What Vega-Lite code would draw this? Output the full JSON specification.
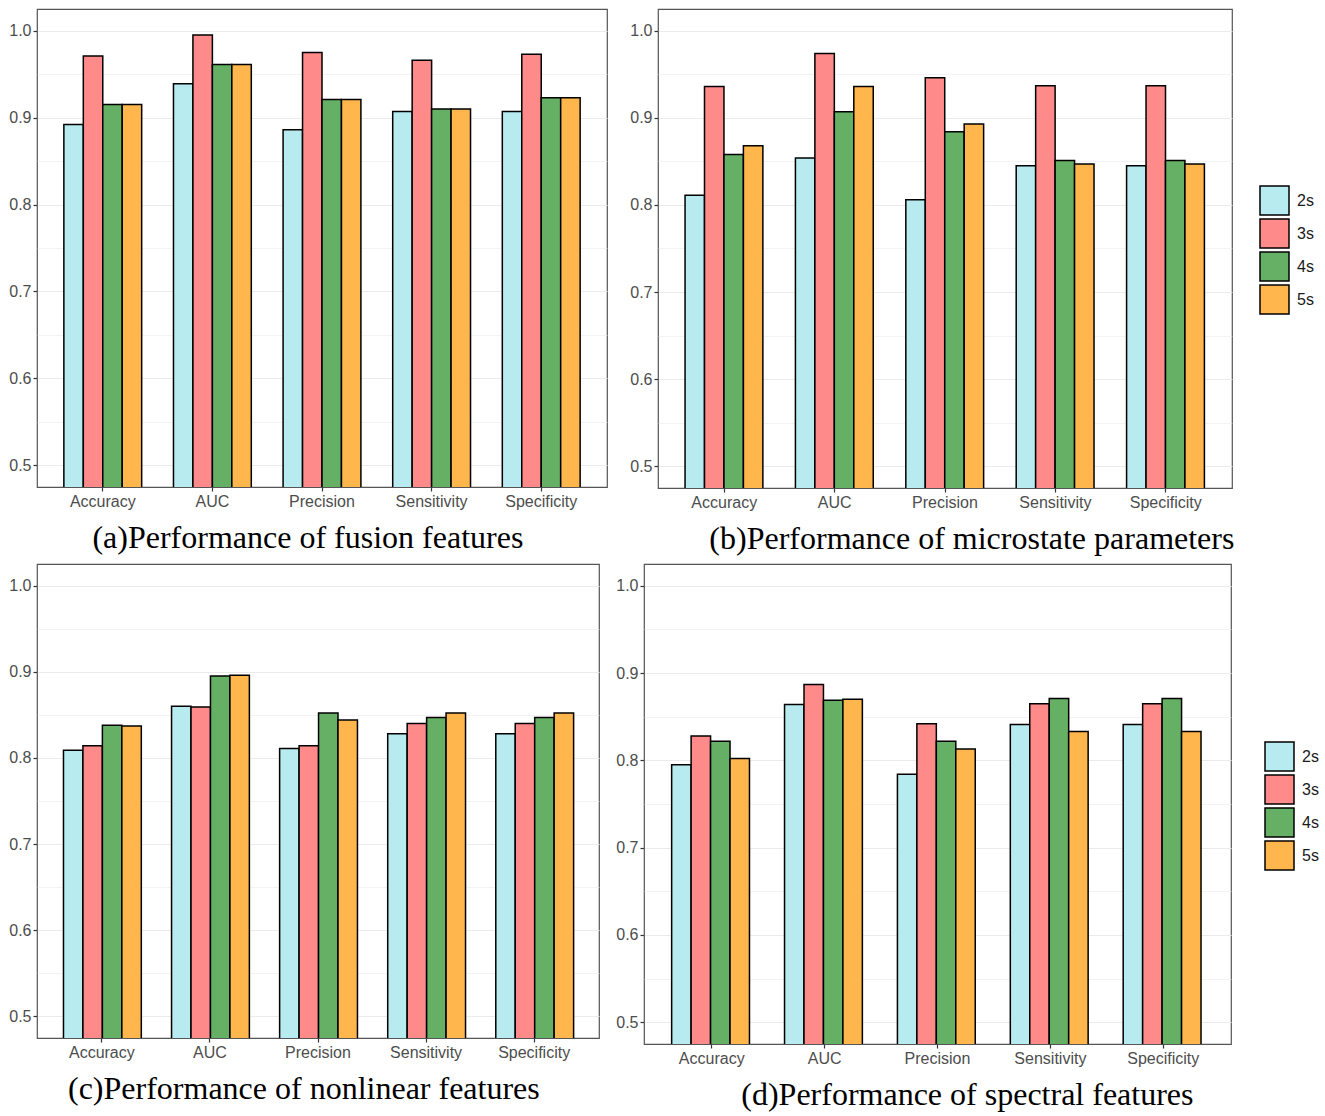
{
  "$schema": "https://vega.github.io/schema/vega-lite/v6.json",
  "padding": {"left": 8, "top": 8, "right": 5, "bottom": 5},
  "background": "white",
  "datasets": {
    "d": [
      {"p":"a","m":"Accuracy","w":"2s","v":0.892},{"p":"a","m":"Accuracy","w":"3s","v":0.971},{"p":"a","m":"Accuracy","w":"4s","v":0.915},{"p":"a","m":"Accuracy","w":"5s","v":0.915},
      {"p":"a","m":"AUC","w":"2s","v":0.939},{"p":"a","m":"AUC","w":"3s","v":0.995},{"p":"a","m":"AUC","w":"4s","v":0.961},{"p":"a","m":"AUC","w":"5s","v":0.961},
      {"p":"a","m":"Precision","w":"2s","v":0.886},{"p":"a","m":"Precision","w":"3s","v":0.975},{"p":"a","m":"Precision","w":"4s","v":0.921},{"p":"a","m":"Precision","w":"5s","v":0.921},
      {"p":"a","m":"Sensitivity","w":"2s","v":0.907},{"p":"a","m":"Sensitivity","w":"3s","v":0.966},{"p":"a","m":"Sensitivity","w":"4s","v":0.910},{"p":"a","m":"Sensitivity","w":"5s","v":0.910},
      {"p":"a","m":"Specificity","w":"2s","v":0.907},{"p":"a","m":"Specificity","w":"3s","v":0.973},{"p":"a","m":"Specificity","w":"4s","v":0.923},{"p":"a","m":"Specificity","w":"5s","v":0.923},
      {"p":"b","m":"Accuracy","w":"2s","v":0.811},{"p":"b","m":"Accuracy","w":"3s","v":0.936},{"p":"b","m":"Accuracy","w":"4s","v":0.858},{"p":"b","m":"Accuracy","w":"5s","v":0.868},
      {"p":"b","m":"AUC","w":"2s","v":0.854},{"p":"b","m":"AUC","w":"3s","v":0.974},{"p":"b","m":"AUC","w":"4s","v":0.907},{"p":"b","m":"AUC","w":"5s","v":0.936},
      {"p":"b","m":"Precision","w":"2s","v":0.806},{"p":"b","m":"Precision","w":"3s","v":0.946},{"p":"b","m":"Precision","w":"4s","v":0.884},{"p":"b","m":"Precision","w":"5s","v":0.893},
      {"p":"b","m":"Sensitivity","w":"2s","v":0.845},{"p":"b","m":"Sensitivity","w":"3s","v":0.937},{"p":"b","m":"Sensitivity","w":"4s","v":0.851},{"p":"b","m":"Sensitivity","w":"5s","v":0.847},
      {"p":"b","m":"Specificity","w":"2s","v":0.845},{"p":"b","m":"Specificity","w":"3s","v":0.937},{"p":"b","m":"Specificity","w":"4s","v":0.851},{"p":"b","m":"Specificity","w":"5s","v":0.847},
      {"p":"c","m":"Accuracy","w":"2s","v":0.809},{"p":"c","m":"Accuracy","w":"3s","v":0.814},{"p":"c","m":"Accuracy","w":"4s","v":0.838},{"p":"c","m":"Accuracy","w":"5s","v":0.837},
      {"p":"c","m":"AUC","w":"2s","v":0.860},{"p":"c","m":"AUC","w":"3s","v":0.859},{"p":"c","m":"AUC","w":"4s","v":0.895},{"p":"c","m":"AUC","w":"5s","v":0.896},
      {"p":"c","m":"Precision","w":"2s","v":0.811},{"p":"c","m":"Precision","w":"3s","v":0.814},{"p":"c","m":"Precision","w":"4s","v":0.852},{"p":"c","m":"Precision","w":"5s","v":0.844},
      {"p":"c","m":"Sensitivity","w":"2s","v":0.828},{"p":"c","m":"Sensitivity","w":"3s","v":0.840},{"p":"c","m":"Sensitivity","w":"4s","v":0.847},{"p":"c","m":"Sensitivity","w":"5s","v":0.852},
      {"p":"c","m":"Specificity","w":"2s","v":0.828},{"p":"c","m":"Specificity","w":"3s","v":0.840},{"p":"c","m":"Specificity","w":"4s","v":0.847},{"p":"c","m":"Specificity","w":"5s","v":0.852},
      {"p":"d","m":"Accuracy","w":"2s","v":0.795},{"p":"d","m":"Accuracy","w":"3s","v":0.828},{"p":"d","m":"Accuracy","w":"4s","v":0.822},{"p":"d","m":"Accuracy","w":"5s","v":0.802},
      {"p":"d","m":"AUC","w":"2s","v":0.864},{"p":"d","m":"AUC","w":"3s","v":0.887},{"p":"d","m":"AUC","w":"4s","v":0.869},{"p":"d","m":"AUC","w":"5s","v":0.870},
      {"p":"d","m":"Precision","w":"2s","v":0.784},{"p":"d","m":"Precision","w":"3s","v":0.842},{"p":"d","m":"Precision","w":"4s","v":0.822},{"p":"d","m":"Precision","w":"5s","v":0.813},
      {"p":"d","m":"Sensitivity","w":"2s","v":0.841},{"p":"d","m":"Sensitivity","w":"3s","v":0.865},{"p":"d","m":"Sensitivity","w":"4s","v":0.871},{"p":"d","m":"Sensitivity","w":"5s","v":0.833},
      {"p":"d","m":"Specificity","w":"2s","v":0.841},{"p":"d","m":"Specificity","w":"3s","v":0.865},{"p":"d","m":"Specificity","w":"4s","v":0.871},{"p":"d","m":"Specificity","w":"5s","v":0.833}
    ]
  },
  "data": {"name": "d"},
  "resolve": {"legend": {"color": "independent"}},
  "spacing": 7,
  "vconcat": [
    {
      "spacing": 21,
      "resolve": {"legend": {"color": "independent"}},
      "hconcat": [
        {
          "width": 570, "height": 478,
          "transform": [{"filter": "datum.p=='a'"}],
          "mark": {"type": "bar", "stroke": "black", "strokeWidth": 1.5, "clip": true},
          "encoding": {
            "x": {"field": "m", "type": "nominal", "sort": ["Accuracy","AUC","Precision","Sensitivity","Specificity"], "scale": {"paddingInner": 0.29, "paddingOuter": 0.245}, "axis": {"title": null, "labelAngle": 0}},
            "xOffset": {"field": "w", "type": "nominal", "scale": {"paddingInner": 0, "paddingOuter": 0}},
            "y": {"field": "v", "type": "quantitative", "scale": {"domain": [0.475, 1.025], "nice": false, "zero": false},
                  "axis": {"title": null, "values": [0.5,0.55,0.6,0.65,0.7,0.75,0.8,0.85,0.9,0.95,1.0], "labelExpr": "round(datum.value*100)%10==0 ? format(datum.value,'.1f') : ''", "tickOpacity": {"condition": {"test": "round(datum.value*100)%10==0", "value": 1}, "value": 0}, "gridWidth": {"condition": {"test": "round(datum.value*100)%10==0", "value": 1.2}, "value": 0.6}, "grid": true}},
            "color": {"field": "w", "type": "nominal", "scale": {"domain": ["2s","3s","4s","5s"], "range": ["#B7EBF0","#FF8A8A","#65B064","#FFB74D"]}, "legend": null}
          },
          "title": {"text": "(a)Performance of fusion features"}
        },
        {
          "width": 574, "height": 479,
          "transform": [{"filter": "datum.p=='b'"}],
          "mark": {"type": "bar", "stroke": "black", "strokeWidth": 1.5, "clip": true},
          "encoding": {
            "x": {"field": "m", "type": "nominal", "sort": ["Accuracy","AUC","Precision","Sensitivity","Specificity"], "scale": {"paddingInner": 0.29, "paddingOuter": 0.245}, "axis": {"title": null, "labelAngle": 0}},
            "xOffset": {"field": "w", "type": "nominal", "scale": {"paddingInner": 0, "paddingOuter": 0}},
            "y": {"field": "v", "type": "quantitative", "scale": {"domain": [0.475, 1.025], "nice": false, "zero": false},
                  "axis": {"title": null, "values": [0.5,0.55,0.6,0.65,0.7,0.75,0.8,0.85,0.9,0.95,1.0], "labelExpr": "round(datum.value*100)%10==0 ? format(datum.value,'.1f') : ''", "tickOpacity": {"condition": {"test": "round(datum.value*100)%10==0", "value": 1}, "value": 0}, "gridWidth": {"condition": {"test": "round(datum.value*100)%10==0", "value": 1.2}, "value": 0.6}, "grid": true}},
            "color": {"field": "w", "type": "nominal", "scale": {"domain": ["2s","3s","4s","5s"], "range": ["#B7EBF0","#FF8A8A","#65B064","#FFB74D"]}, "legend": {"title": null, "orient": "none", "legendX": 601, "legendY": 176}}
          },
          "title": {"text": "(b)Performance of microstate parameters"}
        }
      ]
    },
    {
      "spacing": 15,
      "resolve": {"legend": {"color": "independent"}},
      "hconcat": [
        {
          "width": 562, "height": 474,
          "transform": [{"filter": "datum.p=='c'"}],
          "mark": {"type": "bar", "stroke": "black", "strokeWidth": 1.5, "clip": true},
          "encoding": {
            "x": {"field": "m", "type": "nominal", "sort": ["Accuracy","AUC","Precision","Sensitivity","Specificity"], "scale": {"paddingInner": 0.29, "paddingOuter": 0.245}, "axis": {"title": null, "labelAngle": 0}},
            "xOffset": {"field": "w", "type": "nominal", "scale": {"paddingInner": 0, "paddingOuter": 0}},
            "y": {"field": "v", "type": "quantitative", "scale": {"domain": [0.475, 1.025], "nice": false, "zero": false},
                  "axis": {"title": null, "values": [0.5,0.55,0.6,0.65,0.7,0.75,0.8,0.85,0.9,0.95,1.0], "labelExpr": "round(datum.value*100)%10==0 ? format(datum.value,'.1f') : ''", "tickOpacity": {"condition": {"test": "round(datum.value*100)%10==0", "value": 1}, "value": 0}, "gridWidth": {"condition": {"test": "round(datum.value*100)%10==0", "value": 1.2}, "value": 0.6}, "grid": true}},
            "color": {"field": "w", "type": "nominal", "scale": {"domain": ["2s","3s","4s","5s"], "range": ["#B7EBF0","#FF8A8A","#65B064","#FFB74D"]}, "legend": null}
          },
          "title": {"text": "(c)Performance of nonlinear features"}
        },
        {
          "width": 587, "height": 480,
          "transform": [{"filter": "datum.p=='d'"}],
          "mark": {"type": "bar", "stroke": "black", "strokeWidth": 1.5, "clip": true},
          "encoding": {
            "x": {"field": "m", "type": "nominal", "sort": ["Accuracy","AUC","Precision","Sensitivity","Specificity"], "scale": {"paddingInner": 0.29, "paddingOuter": 0.245}, "axis": {"title": null, "labelAngle": 0}},
            "xOffset": {"field": "w", "type": "nominal", "scale": {"paddingInner": 0, "paddingOuter": 0}},
            "y": {"field": "v", "type": "quantitative", "scale": {"domain": [0.475, 1.025], "nice": false, "zero": false},
                  "axis": {"title": null, "values": [0.5,0.55,0.6,0.65,0.7,0.75,0.8,0.85,0.9,0.95,1.0], "labelExpr": "round(datum.value*100)%10==0 ? format(datum.value,'.1f') : ''", "tickOpacity": {"condition": {"test": "round(datum.value*100)%10==0", "value": 1}, "value": 0}, "gridWidth": {"condition": {"test": "round(datum.value*100)%10==0", "value": 1.2}, "value": 0.6}, "grid": true}},
            "color": {"field": "w", "type": "nominal", "scale": {"domain": ["2s","3s","4s","5s"], "range": ["#B7EBF0","#FF8A8A","#65B064","#FFB74D"]}, "legend": {"title": null, "orient": "none", "legendX": 620, "legendY": 177}}
          },
          "title": {"text": "(d)Performance of spectral features"}
        }
      ]
    }
  ],
  "config": {
    "view": {"stroke": "#555555", "strokeWidth": 1.2},
    "axis": {"labelFont": "Liberation Sans", "labelFontSize": 16, "labelColor": "#4D4D4D", "tickColor": "#333333", "tickSize": 4, "tickWidth": 1.2, "labelPadding": 2, "domain": false, "gridColor": "#EBEBEB"},
    "axisX": {"grid": false},
    "legend": {"symbolType": "square", "symbolSize": 841, "symbolStrokeColor": "black", "symbolStrokeWidth": 1.5, "symbolFillOpacity": 1, "rowPadding": -6, "labelFont": "Liberation Sans", "labelFontSize": 16, "labelColor": "#1A1A1A", "labelOffset": 7},
    "title": {"orient": "bottom", "font": "Liberation Serif", "fontSize": 32, "fontWeight": "normal", "color": "black", "anchor": "middle", "frame": "bounds", "offset": 14}
  }
}
